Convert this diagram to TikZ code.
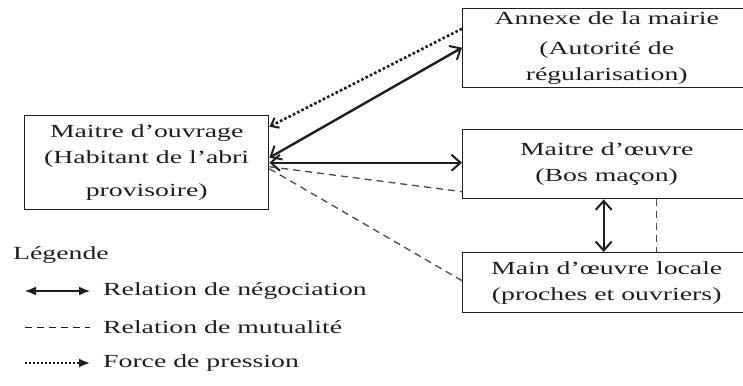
\documentclass[tikz,border=0pt]{standalone}
\usepackage{fontspec}
\setmainfont{Liberation Serif}[FakeStretch=1.5]
\usetikzlibrary{arrows.meta}
\definecolor{ink}{HTML}{1E1E1E}
\definecolor{dashgray}{HTML}{4A4A4A}

\begin{document}
\begin{tikzpicture}[x=1pt,y=-1pt,
  every node/.style={text=ink},
  box/.style={draw=ink, line width=1.4pt, rectangle, inner sep=0pt,
    align=center, anchor=north west, font=\fontsize{18.5}{26}\selectfont},
  legtext/.style={anchor=west, inner sep=0pt, font=\fontsize{18.5}{22}\selectfont},
  nego/.style={draw=ink, line width=2.4pt,
    {Straight Barb[length=9pt,width=16pt,line width=2pt]}-{Straight Barb[length=9pt,width=16pt,line width=2pt]}},
  mutual/.style={draw=dashgray, line width=1.3pt, dash pattern=on 7pt off 5pt},
  pressure/.style={draw=ink, line width=2.6pt, dash pattern=on 2.6pt off 2.2pt,
    -{Straight Barb[length=7pt,width=11pt,line width=2pt]}},
  legnego/.style={draw=ink, line width=1.4pt,
    {Latex[length=11pt,width=9pt]}-{Latex[length=11pt,width=9pt]}},
  legmutual/.style={draw=ink, line width=0.9pt, dash pattern=on 7pt off 5pt},
  legpressure/.style={draw=ink, line width=1.8pt, dash pattern=on 2pt off 2pt,
    -{Latex[length=11pt,width=9pt]}}]
\useasboundingbox (0,0) rectangle (743,385);
\clip (0,0) rectangle (743,385);

% actors
\node[box, minimum width=244pt, minimum height=94pt] (MOU) at (24,115)
  {Maitre d’ouvrage\\(Habitant de l’abri\\[7pt]provisoire)};
\node[box, minimum width=288pt, minimum height=79pt] (ANX) at (462,8)
  {Annexe de la mairie\\[4pt](Autorité de\\régularisation)};
\node[box, minimum width=288pt, minimum height=69pt] (MOE) at (462,129)
  {Maitre d’œuvre\\(Bos maçon)};
\node[box, minimum width=288pt, minimum height=60pt] (MDO) at (462,252)
  {Main d’œuvre locale\\(proches et ouvriers)};

% relations
\draw[pressure] ([yshift=19.5pt]ANX.west) -- ([yshift=36pt]MOU.east);
\draw[nego] ([yshift=5pt]MOU.east) -- ([yshift=0.5pt]ANX.west);
\draw[nego] (MOU.east) -- (MOU.east -| MOE.west);
\draw[mutual] ([yshift=-4pt]MOU.east) -- ([yshift=-27.5pt]MOE.west);
\draw[mutual] ([yshift=-6pt]MOU.east) -- ([yshift=2pt]MDO.west);
\draw[nego] ([xshift=-3pt]MOE.south) -- ([xshift=-3pt]MDO.north);
\draw[mutual] ([xshift=50pt]MOE.south) -- ([xshift=50pt]MDO.north);

% legend
\node[legtext] (LEG) at (13,255) {Légende};
\coordinate (n1) at (25,291); \coordinate (n2) at (90,291);
\coordinate (m1) at (25,327); \coordinate (m2) at (90,327);
\coordinate (p1) at (25,363); \coordinate (p2) at (90,363);
\draw[legnego] (n1) -- (n2);
\draw[legmutual] (m1) -- (m2);
\draw[legpressure] (p1) -- (p2);
\node[legtext] (T1) at (103,291) {Relation de négociation};
\node[legtext] (T2) at (103,327) {Relation de mutualité};
\node[legtext] (T3) at (103,363) {Force de pression};
\end{tikzpicture}
\end{document}
